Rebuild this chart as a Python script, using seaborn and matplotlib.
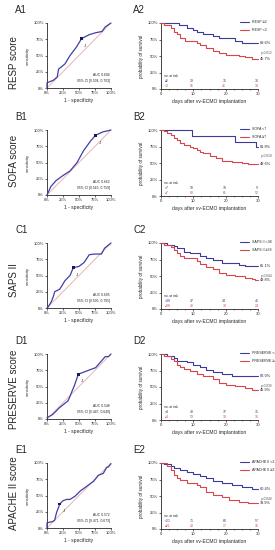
import numpy as np
import pandas as pd
import matplotlib
matplotlib.use("Agg")
import matplotlib.pyplot as plt
from matplotlib.ticker import MultipleLocator, FixedLocator
from matplotlib.lines import Line2D
import seaborn as sns

sns.set_style("ticks")
plt.rcParams['font.family'] = ['Liberation Sans', 'DejaVu Sans']

# ---------------- data ----------------
row_titles = ["RESP score", "SOFA score", "SAPS II", "PRESERVE score", "APACHE II score"]
letters = ["A", "B", "C", "D", "E"]

# ROC curves (1 - specificity, sensitivity)
roc_A_fpr = [0, 0, 0.10, 0.16, 0.18, 0.28, 0.36, 0.46, 0.54, 0.66, 0.76, 0.86, 0.91, 1.0]
roc_A_tpr = [0, 0.08, 0.12, 0.17, 0.29, 0.37, 0.50, 0.63, 0.76, 0.82, 0.85, 0.87, 0.94, 1.0]
roc_B_fpr = [0, 0.06, 0.14, 0.25, 0.36, 0.47, 0.57, 0.68, 0.76, 0.87, 1.0]
roc_B_tpr = [0, 0.13, 0.22, 0.30, 0.37, 0.50, 0.68, 0.83, 0.92, 0.97, 1.0]
roc_C_fpr = [0, 0.02, 0.07, 0.10, 0.12, 0.20, 0.28, 0.36, 0.41, 0.50, 0.58, 0.66, 0.75, 0.85, 0.90, 0.95, 1.0]
roc_C_tpr = [0, 0.02, 0.10, 0.18, 0.25, 0.29, 0.42, 0.50, 0.62, 0.64, 0.70, 0.82, 0.83, 0.83, 0.92, 0.96, 1.0]
roc_D_fpr = [0, 0.09, 0.19, 0.33, 0.43, 0.49, 0.76, 0.91, 0.96, 1.0]
roc_D_tpr = [0.02, 0.07, 0.17, 0.28, 0.52, 0.69, 0.79, 0.96, 0.96, 1.0]
roc_E_fpr = [0, 0, 0.09, 0.12, 0.15, 0.20, 0.25, 0.31, 0.36, 0.44, 0.52, 0.73, 0.80, 0.88, 0.93, 0.96, 1.0]
roc_E_tpr = [0, 0.08, 0.10, 0.12, 0.24, 0.37, 0.42, 0.44, 0.44, 0.49, 0.57, 0.72, 0.81, 0.84, 0.93, 0.94, 0.99]

roc_fpr = [roc_A_fpr, roc_B_fpr, roc_C_fpr, roc_D_fpr, roc_E_fpr]
roc_tpr = [roc_A_tpr, roc_B_tpr, roc_C_tpr, roc_D_tpr, roc_E_tpr]
youden_x = [0.54, 0.76, 0.41, 0.49, 0.20]
youden_y = [0.76, 0.92, 0.62, 0.69, 0.37]
auc_text = ["AUC 0.604", "AUC 0.662", "AUC 0.605", "AUC 0.548", "AUC 0.572"]
ci_text = ["95% CI [0.504, 0.703]", "95% CI [0.565, 0.759]", "95% CI [0.505, 0.705]",
           "95% CI [0.447, 0.649]", "95% CI [0.471, 0.673]"]

# Kaplan-Meier curves (days, survival)
km_A_blue_t = [0, 5.5, 8, 10, 11, 13, 16, 18, 23, 25, 30]
km_A_blue_s = [1, .97, .93, .90, .87, .83, .80, .77, .73, .696, .696]
km_A_red_t = [0, 1, 3, 4, 5, 6, 7.5, 10, 11, 12, 14, 16, 18, 20, 24, 26, 28, 30]
km_A_red_s = [1, .97, .92, .87, .83, .78, .73, .72, .69, .67, .62, .58, .55, .52, .50, .48, .457, .457]
km_B_blue_t = [0, 9.5, 23, 29.3, 30]
km_B_blue_s = [1, .909, .818, .75, .75]
km_B_red_t = [0, 1, 2, 3, 4, 5, 6, 7, 9, 10, 11, 12, 13, 15, 17, 19, 22, 25, 27, 30]
km_B_red_s = [1, .98, .95, .92, .88, .85, .80, .77, .75, .72, .70, .67, .65, .61, .57, .53, .52, .50, .486, .486]
km_C_blue_t = [0, 2, 4, 5, 7, 9, 12, 14, 16, 19, 24, 26, 30]
km_C_blue_s = [1, .97, .95, .92, .87, .85, .80, .77, .74, .70, .66, .651, .651]
km_C_red_t = [0, 1, 3, 4, 5, 6, 7, 11, 12, 14, 16, 18, 20, 23, 26, 28, 29, 30]
km_C_red_s = [1, .97, .94, .90, .85, .80, .77, .72, .68, .64, .60, .55, .52, .50, .47, .45, .438, .438]
km_D_blue_t = [0, 2, 4, 5, 8, 10, 12, 14, 16, 19, 22, 24, 30]
km_D_blue_s = [1, .97, .94, .90, .88, .83, .80, .76, .72, .69, .67, .66, .66]
km_D_red_t = [0, 1, 3, 4, 5, 6, 7, 9, 11, 13, 16, 18, 20, 23, 26, 28, 29, 30]
km_D_red_s = [1, .97, .93, .89, .84, .80, .77, .74, .70, .67, .62, .56, .53, .51, .48, .46, .459, .459]
km_E_blue_t = [0, 1, 3, 4, 6, 8, 10, 12, 14, 16, 19, 22, 25, 28, 29.5, 30]
km_E_blue_s = [1, .98, .96, .93, .90, .87, .84, .80, .77, .73, .70, .67, .64, .61, .604, .604]
km_E_red_t = [0, 2, 3, 4, 5, 6, 8, 11, 12, 14, 16, 19, 21, 24, 27, 30]
km_E_red_s = [1, .96, .89, .82, .78, .74, .70, .67, .63, .56, .52, .48, .44, .41, .389, .389]

km_blue_t = [km_A_blue_t, km_B_blue_t, km_C_blue_t, km_D_blue_t, km_E_blue_t]
km_blue_s = [km_A_blue_s, km_B_blue_s, km_C_blue_s, km_D_blue_s, km_E_blue_s]
km_red_t = [km_A_red_t, km_B_red_t, km_C_red_t, km_D_red_t, km_E_red_t]
km_red_s = [km_A_red_s, km_B_red_s, km_C_red_s, km_D_red_s, km_E_red_s]

blue_names = ["RESP ≥2", "SOFA <7", "SAPS II <38", "PRESERVE <4", "APACHE II <21"]
red_names = ["RESP <2", "SOFA ≥7", "SAPS II ≥38", "PRESERVE ≥4", "APACHE II ≥21"]
blue_short = ["≥2", "<7", "<38", "<4", "<21"]
red_short = ["<2", "≥7", "≥38", "≥4", "≥21"]
blue_end = ["69.6%", "81.8%", "65.1%", "66.0%", "60.4%"]
red_end = ["45.7%", "48.6%", "43.8%", "45.9%", "38.9%"]
p_text = ["p=0.012", "p=0.018", "p=0.044", "p=0.030", "p=0.040"]
risk_days = [10, 20, 30]
risk_blue = [[38, 35, 32], [10, 10, 9], [47, 44, 41], [40, 37, 35], [71, 60, 57]]
risk_red = [[56, 41, 33], [80, 61, 52], [42, 30, 24], [53, 38, 30], [20, 17, 16]]

# ---------------- style ----------------
BLUE = "#3b3b9c"
RED = "#d8464b"
ROC_C = "#4040a4"
DIAG = "#e8b4b4"

W, H = 275, 550
fig = plt.figure(figsize=(W / 100, H / 100), dpi=100)
fig.patch.set_facecolor("white")


def ax_at(x0, y0, x1, y1):
    return fig.add_axes([x0 / W, 1 - y1 / H, (x1 - x0) / W, (y1 - y0) / H])


def style_axes(ax):
    sns.despine(ax=ax)
    for s in ("left", "bottom"):
        ax.spines[s].set_linewidth(0.6)
    ax.tick_params(which="major", length=1.6, width=0.5, labelsize=3, pad=0.8)
    ax.tick_params(which="minor", length=1.0, width=0.4)


row_tops = [23, 130, 243, 354, 463]
row_label_y = [63, 161, 280, 389, 493]
pct = [0, 0.25, 0.5, 0.75, 1.0]
pct_lbl = ["0%", "25%", "50%", "75%", "100%"]

for i in range(5):
    top = row_tops[i]
    bot = top + 65

    fig.text(14 / W, 1 - row_label_y[i] / H, row_titles[i], rotation=90,
             fontsize=7, ha="center", va="center")
    fig.text(15 / W, 1 - (top - 13) / H, letters[i] + "1", fontsize=7, ha="left", va="center")
    fig.text(133 / W, 1 - (top - 13) / H, letters[i] + "2", fontsize=7, ha="left", va="center")

    # ---- ROC ----
    ax = ax_at(47, top, 111, bot)
    ax.axline((0, 0), slope=1, color=DIAG, lw=0.7, zorder=1)
    df = pd.DataFrame({"fpr": roc_fpr[i], "tpr": roc_tpr[i]})
    sns.lineplot(data=df, x="fpr", y="tpr", sort=False, estimator=None,
                 color=ROC_C, lw=0.9, ax=ax, clip_on=False, zorder=3)
    sns.scatterplot(x=[youden_x[i]], y=[youden_y[i]], marker="s", s=4,
                    color="#1a1a5a", edgecolor="none", ax=ax, zorder=4, clip_on=False)
    ax.annotate("J", (youden_x[i], youden_y[i]), xytext=(2, -6),
                textcoords="offset points", fontsize=3.2, color="#333333")
    ax.set_xlim(0, 1)
    ax.set_ylim(0, 1)
    ax.xaxis.set_major_locator(FixedLocator(pct))
    ax.yaxis.set_major_locator(FixedLocator(pct))
    ax.set_xticklabels(pct_lbl)
    ax.set_yticklabels(pct_lbl)
    ax.set_xlabel("1 - specificity", fontsize=3.6, labelpad=2)
    ax.set_ylabel("sensitivity", fontsize=3.0, labelpad=2.5)
    ax.text(0.98, 0.20, auc_text[i], transform=ax.transAxes, fontsize=2.4, ha="right", va="center")
    ax.text(0.98, 0.11, ci_text[i], transform=ax.transAxes, fontsize=2.4, ha="right", va="center")
    style_axes(ax)

    # ---- KM ----
    ax2 = ax_at(161, top, 258, bot + 1)
    dfb = pd.DataFrame({"t": km_blue_t[i], "s": km_blue_s[i]})
    dfr = pd.DataFrame({"t": km_red_t[i], "s": km_red_s[i]})
    sns.lineplot(data=dfb, x="t", y="s", sort=False, estimator=None, drawstyle="steps-post",
                 color=BLUE, lw=0.8, ax=ax2, clip_on=False, zorder=3)
    sns.lineplot(data=dfr, x="t", y="s", sort=False, estimator=None, drawstyle="steps-post",
                 color=RED, lw=0.8, ax=ax2, clip_on=False, zorder=3)
    ax2.set_xlim(0, 30)
    ax2.set_ylim(0, 1.0)
    ax2.xaxis.set_major_locator(MultipleLocator(10))
    ax2.xaxis.set_minor_locator(MultipleLocator(2.5))
    ax2.yaxis.set_major_locator(FixedLocator(pct))
    ax2.set_yticklabels(pct_lbl)
    ax2.set_xlabel("days after vv-ECMO implantation", fontsize=3.6, labelpad=2)
    ax2.set_ylabel("probability of survival", fontsize=3.3, labelpad=2.5)
    style_axes(ax2)

    handles = [Line2D([], [], color=BLUE, lw=0.8), Line2D([], [], color=RED, lw=0.8)]
    ax2.legend(handles, [blue_names[i], red_names[i]], loc="upper left",
               bbox_to_anchor=(0.80, 1.06), frameon=False, fontsize=2.6,
               handlelength=2.6, handletextpad=0.6, labelspacing=1.1, borderaxespad=0)

    yb = km_blue_s[i][-1]
    yr = km_red_s[i][-1]
    ax2.annotate(blue_end[i], (30, yb), xytext=(1.5, 0), textcoords="offset points",
                 fontsize=2.8, va="center", ha="left", annotation_clip=False)
    ax2.annotate(red_end[i], (30, yr), xytext=(1.5, 0), textcoords="offset points",
                 fontsize=2.8, va="center", ha="left", annotation_clip=False)
    ax2.annotate(p_text[i], (30, yb), xytext=(2, -7), textcoords="offset points",
                 fontsize=2.3, va="center", ha="left", color="#555555", annotation_clip=False)

    ax2.text(1.0, 0.19, "no. at risk", fontsize=2.3, ha="left", va="center")
    ax2.text(1.3, 0.12, blue_short[i], fontsize=2.5, color=BLUE, ha="left", va="center")
    ax2.text(1.3, 0.05, red_short[i], fontsize=2.5, color=RED, ha="left", va="center")
    for d, nb, nr in zip(risk_days, risk_blue[i], risk_red[i]):
        ax2.text(d - 0.4, 0.12, str(nb), fontsize=2.5, color=BLUE, ha="center", va="center")
        ax2.text(d - 0.4, 0.05, str(nr), fontsize=2.5, color=RED, ha="center", va="center")

fig.savefig("out.png", dpi=100, facecolor="white")
